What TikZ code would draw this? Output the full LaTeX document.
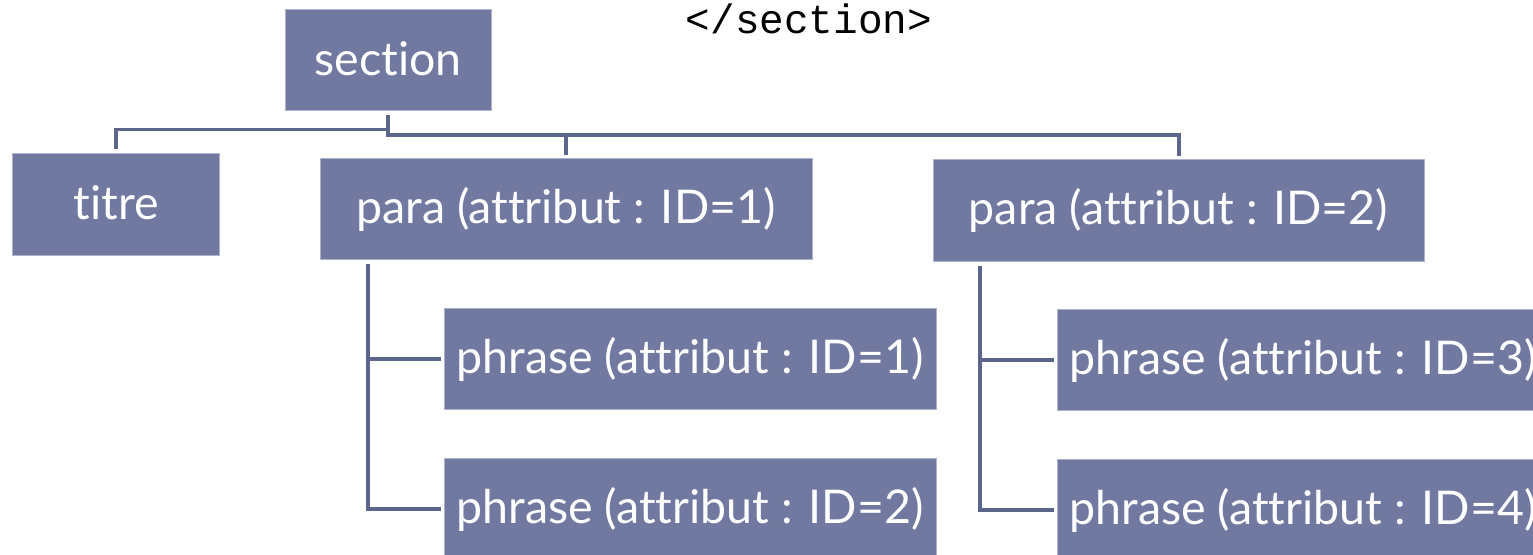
\documentclass[tikz,border=0pt]{standalone}
\usepackage{fontspec}
\setmainfont{Lato}[Ligatures=NoCommon]
\newfontfamily\monofont{Liberation Mono}
\definecolor{boxfill}{RGB}{113,121,160}
\definecolor{boxedge}{RGB}{172,178,204}
\definecolor{connc}{RGB}{92,101,140}
\tikzset{
  nodebox/.style={draw=boxedge, line width=1pt, fill=boxfill, text=white,
    inner sep=0pt, font=\fontsize{46.5}{50}\selectfont,
    text height=35pt, text depth=6pt},
  conn/.style={draw=connc, line width=4pt, line cap=rect, line join=miter}
}
\begin{document}
\begin{tikzpicture}[x=1pt,y=-1pt]
\useasboundingbox (0,0) rectangle (1533,554);
\clip (0,0) rectangle (1533,554);
\node[anchor=base, font=\monofont\fontsize{41}{44}\selectfont] (closetag) at (809,33) {</section>};
\node[nodebox, minimum width=206pt, minimum height=101pt, text depth=4pt] (section) at (388,60) {section};
\node[nodebox, minimum width=207pt, minimum height=102pt, text depth=4pt] (titre) at (116,204) {titre};
\node[nodebox, minimum width=492pt, minimum height=101pt] (para1) at (566,208.5) {para (attribut : ID=1)};
\node[nodebox, minimum width=491pt, minimum height=102pt] (para2) at (1178.5,210) {para (attribut : ID=2)};
\node[nodebox, minimum width=492pt, minimum height=101pt] (phrase1) at (690,358.5) {phrase (attribut : ID=1)};
\node[nodebox, minimum width=492pt, minimum height=101pt] (phrase2) at (690,508.5) {phrase (attribut : ID=2)};
\node[nodebox, minimum width=492pt, minimum height=101pt] (phrase3) at (1303,360) {phrase (attribut : ID=3)};
\node[nodebox, minimum width=492pt, minimum height=101pt] (phrase4) at (1303,509.5) {phrase (attribut : ID=4)};
\coordinate (leftbus) at ([yshift=-18.5pt]section.south);
\coordinate (rightbus) at ([yshift=-24pt]section.south);
% section children
\draw[conn, line width=3.5pt] ([yshift=-6pt]section.south) -- (leftbus) -| ([yshift=5pt]titre.north);
\draw[conn, line width=4.5pt] (leftbus) -- (rightbus) -| ([yshift=5pt]para1.north);
\draw[conn] (rightbus) -| ([yshift=5pt]para2.north);
% para1 children
\draw[conn] ([xshift=48pt,yshift=-6pt]para1.south west) |- ([xshift=-5pt]phrase2.west);
\draw[conn] ([xshift=48pt]para1.south west |- phrase1.west) -- ([xshift=-5pt]phrase1.west);
% para2 children
\draw[conn] ([xshift=47pt,yshift=-6pt]para2.south west) |- ([xshift=-5pt]phrase4.west);
\draw[conn] ([xshift=47pt]para2.south west |- phrase3.west) -- ([xshift=-5pt]phrase3.west);
\end{tikzpicture}
\end{document}
